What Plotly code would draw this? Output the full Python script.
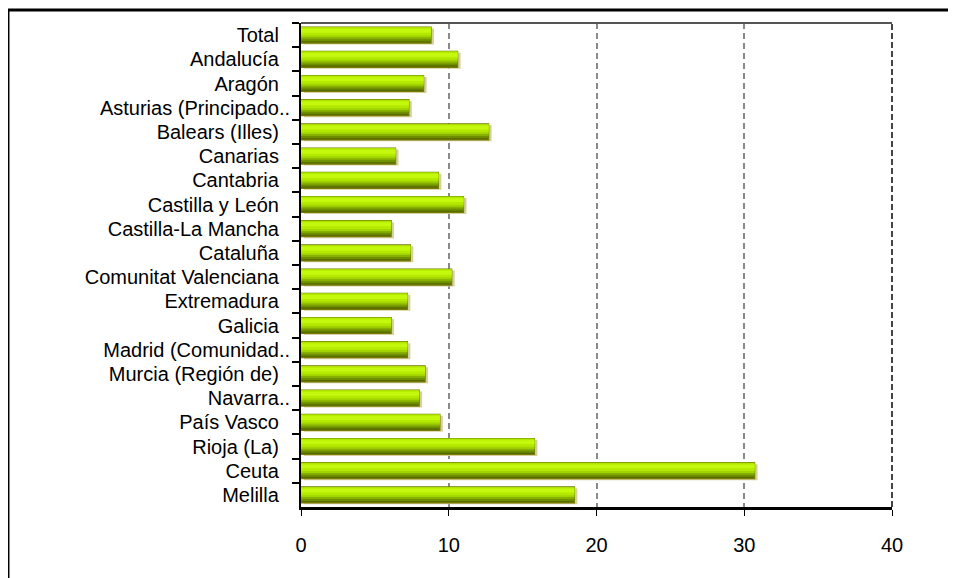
import plotly.graph_objects as go

# regions (top to bottom) and their values
regions = [
    "Total", "Andalucía", "Aragón", "Asturias (Principado..", "Balears (Illes)",
    "Canarias", "Cantabria", "Castilla y León", "Castilla-La Mancha", "Cataluña",
    "Comunitat Valenciana", "Extremadura", "Galicia", "Madrid (Comunidad..",
    "Murcia (Región de)", "Navarra..", "País Vasco", "Rioja (La)", "Ceuta", "Melilla",
]
values = [
    8.8, 10.6, 8.3, 7.3, 12.7,
    6.4, 9.3, 11.0, 6.1, 7.4,
    10.2, 7.2, 6.1, 7.2,
    8.4, 8.0, 9.4, 15.8, 30.7, 18.5,
]
x_ticks = [0, 10, 20, 30, 40]

# labels that are not cut get a trailing gap like in the original
labels = [r if r.endswith("..") else r + "\u00a0\u00a0" for r in regions]

fig = go.Figure()

# shadow: same bars pushed ~3px to the right with a small base
fig.add_trace(go.Bar(
    y=labels, x=values, orientation="h", base=0.2,
    width=0.66, offset=-0.27,
    marker=dict(color="#d4d0a0", line=dict(width=0)),
    hoverinfo="skip", showlegend=False,
))

# stacked stripes to fake the 3d gradient of the bars (own axis so they sit above the shadow)
stripes = [
    (-0.33, 0.66, "#566e00"),
    (-0.33, 0.58, "#6e8e00"),
    (-0.33, 0.50, "#88b000"),
    (-0.33, 0.42, "#a2d400"),
    (-0.31, 0.32, "#b4ea00"),
    (-0.26, 0.16, "#c4f80c"),
]
for i, (off, w, col) in enumerate(stripes):
    fig.add_trace(go.Bar(
        y=labels, x=values, orientation="h", xaxis="x2",
        width=w, offset=off,
        marker=dict(color=col,
                    line=dict(color="#7a7a00", width=1.2 if i == 0 else 0)),
        hoverinfo="skip", showlegend=False,
    ))

# page body has an 8px margin, so margins are shifted by 8px
fig.update_layout(
    barmode="overlay",
    width=956, height=578,
    margin=dict(l=293, r=72, t=15, b=79),
    plot_bgcolor="white", paper_bgcolor="white",
    font=dict(family="Liberation Sans, Arial, sans-serif", color="black"),
    xaxis=dict(
        range=[0, 40], tickvals=x_ticks, ticks="outside", ticklen=6,
        tickcolor="black", tickfont=dict(size=20), ticklabelstandoff=12,
        showgrid=True, gridcolor="#8a8a8a", gridwidth=1.5, griddash="6px,4px",
        showline=True, linecolor="black", linewidth=2.5,
        zeroline=False,
    ),
    xaxis2=dict(range=[0, 40], overlaying="x", visible=False),
    yaxis=dict(
        type="category", range=[19.5, -0.5],
        ticks="outside", ticklen=7, tickcolor="black", tickwidth=1.5,
        tickson="boundaries", tickfont=dict(size=20), ticklabelstandoff=5,
        showline=True, linecolor="black", linewidth=2,
        showgrid=False,
    ),
    shapes=[
        # top border of the plot area
        dict(type="line", xref="paper", yref="paper", x0=0, x1=1, y0=1, y1=1,
             line=dict(color="#555555", width=2)),
        # right border, dashed
        dict(type="line", xref="paper", yref="paper", x0=1, x1=1, y0=0, y1=1,
             line=dict(color="#444444", width=2, dash="6px,3px")),
        # outer frame of the chart
        dict(type="rect", xref="paper", yref="paper",
             x0=-0.4958, x1=1.14, y0=-0.18, y1=1.0269,
             line=dict(color="black", width=3), fillcolor="rgba(0,0,0,0)"),
    ],
)

fig.write_html("out.html")
